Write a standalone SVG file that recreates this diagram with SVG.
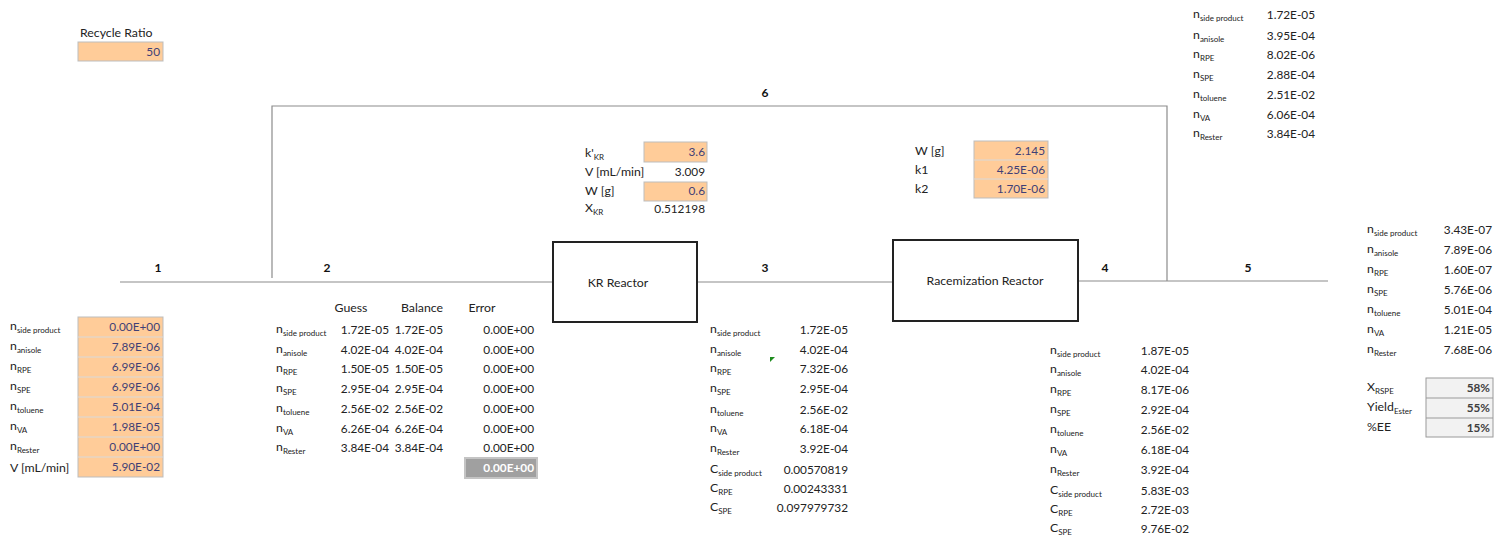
<svg xmlns="http://www.w3.org/2000/svg" width="1506" height="540" viewBox="0 0 1506 540">
<style>
text{font-family:Lato,"Open Sans","Liberation Sans",sans-serif;fill:#222;}
.l{font-size:12.3px;}
.n{font-size:11.8px;text-anchor:end;}
.i{fill:#3F3F76;}
.s{font-size:8px;}
.b{font-size:12px;font-weight:bold;text-anchor:middle;fill:#111;}
.h{font-size:12.3px;text-anchor:middle;}
.in{fill:#FFCC99;stroke:#BDBDBD;stroke-width:1;}
.sep{stroke:#D9D9D9;stroke-width:1;}
.con{fill:none;stroke:#8C8C8C;stroke-width:1.2;}
.rx{fill:#fff;stroke:#222;stroke-width:2;}
.rt{font-size:12.3px;text-anchor:middle;}
.out{fill:#F2F2F2;stroke:#9A9A9A;stroke-width:1;}
.ob{font-weight:bold;fill:#3F3F3F;}
</style>
<rect width="1506" height="540" fill="#fff"/>

<g id="connectors">
<line class="con" x1="120" y1="282" x2="553" y2="282"/>
<line class="con" x1="697" y1="282" x2="893" y2="282"/>
<line class="con" x1="1078" y1="281" x2="1328" y2="281"/>
<polyline class="con" points="1167,281 1167,106 272,106 272,278"/>
</g>

<g id="stream-labels">
<text class="b" x="158" y="272">1</text>
<text class="b" x="327" y="272">2</text>
<text class="b" x="765" y="272">3</text>
<text class="b" x="1105" y="272">4</text>
<text class="b" x="1248" y="272">5</text>
<text class="b" x="765" y="97">6</text>
</g>

<g id="recycle-ratio">
<text class="l" x="80" y="37">Recycle Ratio</text>
<rect class="in" x="78" y="42" width="85" height="19"/>
<text class="n i" x="160" y="56">50</text>
</g>

<g id="kr-reactor">
<rect class="rx" x="553" y="242" width="144" height="80"/>
<text class="rt" x="618" y="287">KR Reactor</text>
</g>

<g id="racemization-reactor">
<rect class="rx" x="893" y="240" width="185" height="81"/>
<text class="rt" x="985" y="285">Racemization Reactor</text>
</g>

<g id="kr-params">
<rect class="in" x="644" y="142" width="63" height="20"/>
<rect class="in" x="644" y="182" width="63" height="19"/>
<text class="l" x="585" y="157">k'<tspan class="s" dy="3">KR</tspan></text>
<text class="n i" x="705" y="156">3.6</text>
<text class="l" x="585" y="176">V [mL/min]</text>
<text class="n" x="705" y="176">3.009</text>
<text class="l" x="585" y="195">W [g]</text>
<text class="n i" x="705" y="195">0.6</text>
<text class="l" x="585" y="212">X<tspan class="s" dy="3">KR</tspan></text>
<text class="n" x="705" y="213">0.512198</text>
</g>

<g id="rac-params">
<rect class="in" x="974" y="141" width="74" height="57"/>
<line class="sep" x1="974" y1="160" x2="1048" y2="160"/>
<line class="sep" x1="974" y1="179" x2="1048" y2="179"/>
<text class="l" x="915" y="155">W [g]</text>
<text class="n i" x="1045" y="155">2.145</text>
<text class="l" x="915" y="174">k1</text>
<text class="n i" x="1045" y="174">4.25E-06</text>
<text class="l" x="915" y="193">k2</text>
<text class="n i" x="1045" y="193">1.70E-06</text>
</g>

<g id="stream1">
<rect class="in" x="78" y="317" width="85" height="160"/>
<line class="sep" x1="78" y1="337" x2="163" y2="337"/>
<line class="sep" x1="78" y1="357" x2="163" y2="357"/>
<line class="sep" x1="78" y1="377" x2="163" y2="377"/>
<line class="sep" x1="78" y1="397" x2="163" y2="397"/>
<line class="sep" x1="78" y1="417" x2="163" y2="417"/>
<line class="sep" x1="78" y1="437" x2="163" y2="437"/>
<line class="sep" x1="78" y1="457" x2="163" y2="457"/>
<text class="l" x="10" y="330">n<tspan class="s" dy="3">side product</tspan></text>
<text class="l" x="10" y="350">n<tspan class="s" dy="3">anisole</tspan></text>
<text class="l" x="10" y="370">n<tspan class="s" dy="3">RPE</tspan></text>
<text class="l" x="10" y="390">n<tspan class="s" dy="3">SPE</tspan></text>
<text class="l" x="10" y="410">n<tspan class="s" dy="3">toluene</tspan></text>
<text class="l" x="10" y="430">n<tspan class="s" dy="3">VA</tspan></text>
<text class="l" x="10" y="450">n<tspan class="s" dy="3">Rester</tspan></text>
<text class="l" x="10" y="472">V [mL/min]</text>
<text class="n i" x="160" y="331">0.00E+00</text>
<text class="n i" x="160" y="351">7.89E-06</text>
<text class="n i" x="160" y="371">6.99E-06</text>
<text class="n i" x="160" y="391">6.99E-06</text>
<text class="n i" x="160" y="411">5.01E-04</text>
<text class="n i" x="160" y="431">1.98E-05</text>
<text class="n i" x="160" y="451">0.00E+00</text>
<text class="n i" x="160" y="471">5.90E-02</text>
</g>

<g id="stream2">
<text class="h" x="351" y="312">Guess</text>
<text class="h" x="422" y="312">Balance</text>
<text class="h" x="482" y="312">Error</text>
<text class="l" x="276" y="333">n<tspan class="s" dy="3">side product</tspan></text>
<text class="l" x="276" y="353">n<tspan class="s" dy="3">anisole</tspan></text>
<text class="l" x="276" y="372">n<tspan class="s" dy="3">RPE</tspan></text>
<text class="l" x="276" y="392">n<tspan class="s" dy="3">SPE</tspan></text>
<text class="l" x="276" y="412">n<tspan class="s" dy="3">toluene</tspan></text>
<text class="l" x="276" y="432">n<tspan class="s" dy="3">VA</tspan></text>
<text class="l" x="276" y="451">n<tspan class="s" dy="3">Rester</tspan></text>
<text class="n" x="389" y="334">1.72E-05</text>
<text class="n" x="389" y="354">4.02E-04</text>
<text class="n" x="389" y="373">1.50E-05</text>
<text class="n" x="389" y="393">2.95E-04</text>
<text class="n" x="389" y="413">2.56E-02</text>
<text class="n" x="389" y="433">6.26E-04</text>
<text class="n" x="389" y="452">3.84E-04</text>
<text class="n" x="443" y="334">1.72E-05</text>
<text class="n" x="443" y="354">4.02E-04</text>
<text class="n" x="443" y="373">1.50E-05</text>
<text class="n" x="443" y="393">2.95E-04</text>
<text class="n" x="443" y="413">2.56E-02</text>
<text class="n" x="443" y="433">6.26E-04</text>
<text class="n" x="443" y="452">3.84E-04</text>
<text class="n" x="534" y="334">0.00E+00</text>
<text class="n" x="534" y="354">0.00E+00</text>
<text class="n" x="534" y="373">0.00E+00</text>
<text class="n" x="534" y="393">0.00E+00</text>
<text class="n" x="534" y="413">0.00E+00</text>
<text class="n" x="534" y="433">0.00E+00</text>
<text class="n" x="534" y="452">0.00E+00</text>
<rect x="465" y="458" width="72" height="20" fill="#A0A0A0" stroke="#C4C4C4" stroke-width="2"/>
<text class="n" x="534" y="472" style="fill:#fff;font-weight:bold">0.00E+00</text>
</g>

<g id="stream3">
<text class="l" x="710" y="333">n<tspan class="s" dy="3">side product</tspan></text>
<text class="l" x="710" y="353">n<tspan class="s" dy="3">anisole</tspan></text>
<text class="l" x="710" y="372">n<tspan class="s" dy="3">RPE</tspan></text>
<text class="l" x="710" y="392">n<tspan class="s" dy="3">SPE</tspan></text>
<text class="l" x="710" y="413">n<tspan class="s" dy="3">toluene</tspan></text>
<text class="l" x="710" y="432">n<tspan class="s" dy="3">VA</tspan></text>
<text class="l" x="710" y="452">n<tspan class="s" dy="3">Rester</tspan></text>
<text class="l" x="710" y="473">C<tspan class="s" dy="3">side product</tspan></text>
<text class="l" x="710" y="492">C<tspan class="s" dy="3">RPE</tspan></text>
<text class="l" x="710" y="511">C<tspan class="s" dy="3">SPE</tspan></text>
<text class="n" x="848" y="334">1.72E-05</text>
<text class="n" x="848" y="354">4.02E-04</text>
<text class="n" x="848" y="373">7.32E-06</text>
<text class="n" x="848" y="393">2.95E-04</text>
<text class="n" x="848" y="414">2.56E-02</text>
<text class="n" x="848" y="433">6.18E-04</text>
<text class="n" x="848" y="453">3.92E-04</text>
<text class="n" x="848" y="474">0.00570819</text>
<text class="n" x="848" y="493">0.00243331</text>
<text class="n" x="848" y="512">0.097979732</text>
<polygon points="770,357 775,357 770,362" fill="#1E8C1E"/>
</g>

<g id="stream4">
<text class="l" x="1050" y="354">n<tspan class="s" dy="3">side product</tspan></text>
<text class="l" x="1050" y="373">n<tspan class="s" dy="3">anisole</tspan></text>
<text class="l" x="1050" y="393">n<tspan class="s" dy="3">RPE</tspan></text>
<text class="l" x="1050" y="413">n<tspan class="s" dy="3">SPE</tspan></text>
<text class="l" x="1050" y="433">n<tspan class="s" dy="3">toluene</tspan></text>
<text class="l" x="1050" y="453">n<tspan class="s" dy="3">VA</tspan></text>
<text class="l" x="1050" y="473">n<tspan class="s" dy="3">Rester</tspan></text>
<text class="l" x="1050" y="494">C<tspan class="s" dy="3">side product</tspan></text>
<text class="l" x="1050" y="513">C<tspan class="s" dy="3">RPE</tspan></text>
<text class="l" x="1050" y="532">C<tspan class="s" dy="3">SPE</tspan></text>
<text class="n" x="1189" y="355">1.87E-05</text>
<text class="n" x="1189" y="374">4.02E-04</text>
<text class="n" x="1189" y="394">8.17E-06</text>
<text class="n" x="1189" y="414">2.92E-04</text>
<text class="n" x="1189" y="434">2.56E-02</text>
<text class="n" x="1189" y="454">6.18E-04</text>
<text class="n" x="1189" y="474">3.92E-04</text>
<text class="n" x="1189" y="495">5.83E-03</text>
<text class="n" x="1189" y="514">2.72E-03</text>
<text class="n" x="1189" y="533">9.76E-02</text>
</g>

<g id="stream6">
<text class="l" x="1193" y="18">n<tspan class="s" dy="3">side product</tspan></text>
<text class="l" x="1193" y="39">n<tspan class="s" dy="3">anisole</tspan></text>
<text class="l" x="1193" y="58">n<tspan class="s" dy="3">RPE</tspan></text>
<text class="l" x="1193" y="78">n<tspan class="s" dy="3">SPE</tspan></text>
<text class="l" x="1193" y="98">n<tspan class="s" dy="3">toluene</tspan></text>
<text class="l" x="1193" y="118">n<tspan class="s" dy="3">VA</tspan></text>
<text class="l" x="1193" y="137">n<tspan class="s" dy="3">Rester</tspan></text>
<text class="n" x="1315" y="19">1.72E-05</text>
<text class="n" x="1315" y="40">3.95E-04</text>
<text class="n" x="1315" y="59">8.02E-06</text>
<text class="n" x="1315" y="79">2.88E-04</text>
<text class="n" x="1315" y="99">2.51E-02</text>
<text class="n" x="1315" y="119">6.06E-04</text>
<text class="n" x="1315" y="138">3.84E-04</text>
</g>

<g id="stream5">
<text class="l" x="1367" y="233">n<tspan class="s" dy="3">side product</tspan></text>
<text class="l" x="1367" y="253">n<tspan class="s" dy="3">anisole</tspan></text>
<text class="l" x="1367" y="273">n<tspan class="s" dy="3">RPE</tspan></text>
<text class="l" x="1367" y="293">n<tspan class="s" dy="3">SPE</tspan></text>
<text class="l" x="1367" y="313">n<tspan class="s" dy="3">toluene</tspan></text>
<text class="l" x="1367" y="333">n<tspan class="s" dy="3">VA</tspan></text>
<text class="l" x="1367" y="353">n<tspan class="s" dy="3">Rester</tspan></text>
<text class="n" x="1492" y="234">3.43E-07</text>
<text class="n" x="1492" y="254">7.89E-06</text>
<text class="n" x="1492" y="274">1.60E-07</text>
<text class="n" x="1492" y="294">5.76E-06</text>
<text class="n" x="1492" y="314">5.01E-04</text>
<text class="n" x="1492" y="334">1.21E-05</text>
<text class="n" x="1492" y="354">7.68E-06</text>
</g>

<g id="results">
<rect class="out" x="1426" y="378" width="67" height="59"/>
<line class="out" x1="1426" y1="398" x2="1493" y2="398"/>
<line class="out" x1="1426" y1="418" x2="1493" y2="418"/>
<text class="l" x="1367" y="391">X<tspan class="s" dy="3">RSPE</tspan></text>
<text class="l" x="1367" y="411">Yield<tspan class="s" dy="3">Ester</tspan></text>
<text class="l" x="1367" y="431">%EE</text>
<text class="n ob" x="1490" y="392">58%</text>
<text class="n ob" x="1490" y="412">55%</text>
<text class="n ob" x="1490" y="432">15%</text>
</g>
</svg>
